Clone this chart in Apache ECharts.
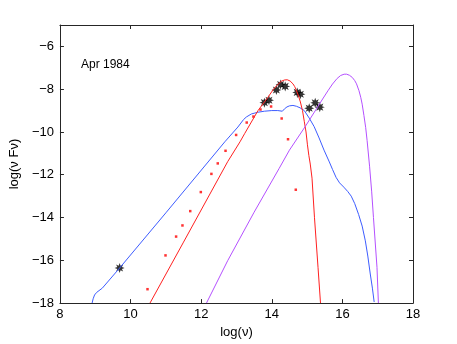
<!DOCTYPE html>
<html>
<head>
<meta charset="utf-8">
<script src="https://cdn.jsdelivr.net/npm/echarts@6/dist/echarts.min.js"></script>
<style>
  html, body { margin: 0; padding: 0; background: #fff; }
  #chart { width: 457px; height: 344px; }
</style>
</head>
<body>
<div id="chart"></div>
<script>
// observed fluxes (black asterisks)
const obsPoints = [
  [9.69, -16.36],
  [13.79, -8.63], [13.92, -8.52], [14.13, -8.04], [14.25, -7.78], [14.38, -7.87],
  [14.72, -8.15], [14.81, -8.24], [15.06, -8.89], [15.23, -8.64], [15.36, -8.84]
]
// red dots
const dotPoints = [
  [10.48, -17.35], [10.99, -15.77], [11.29, -14.89], [11.47, -14.37], [11.69, -13.70],
  [11.99, -12.81], [12.29, -11.96], [12.47, -11.47], [12.69, -10.88], [12.99, -10.14],
  [13.29, -9.56], [13.48, -9.28], [13.68, -8.95], [13.98, -8.81], [14.28, -9.37],
  [14.46, -10.34], [14.68, -12.70]
]
// blue model curve
const blueCurve = [
  [8.91, -18], [8.94, -17.8], [8.98, -17.62], [9.04, -17.5], [9.2, -17.3], [9.69, -16.36],
  [11, -13.78], [12.67, -10.46], [13.04, -9.77], [13.2, -9.42], [13.28, -9.3], [13.42, -9.16],
  [13.6, -9.08], [13.79, -9.03], [14.0, -9.0], [14.17, -9.0], [14.3, -9.03], [14.36, -8.92],
  [14.43, -8.83], [14.5, -8.78], [14.6, -8.76], [14.7, -8.8], [14.8, -8.87],
  [14.92, -9.0], [15.06, -9.35], [15.2, -9.75], [15.34, -10.28], [15.48, -10.85],
  [15.63, -11.4], [15.72, -11.75], [15.82, -12.12], [15.92, -12.38], [16.04, -12.58],
  [16.15, -12.78], [16.25, -13.0], [16.35, -13.35], [16.46, -13.86], [16.56, -14.4],
  [16.65, -15.09], [16.72, -15.8], [16.79, -16.64], [16.85, -17.3], [16.9, -17.95]
]
// red model curve
const redCurve = [
  [10.55, -18], [11.5, -15.15], [12.75, -11.39], [13.1, -10.46], [13.23, -10.08],
  [13.61, -9.0], [13.89, -8.38], [14.05, -8.0], [14.17, -7.78], [14.27, -7.63],
  [14.36, -7.57], [14.44, -7.56], [14.52, -7.62], [14.6, -7.75], [14.65, -7.88],
  [14.69, -8.03], [14.75, -8.28], [14.81, -8.6], [14.87, -9.0], [14.92, -9.5],
  [14.97, -10.0], [15.01, -10.6], [15.05, -11.1], [15.09, -11.5], [15.14, -12.16],
  [15.21, -14.01], [15.31, -16.33], [15.38, -18]
]
// purple model curve
const purpleCurve = [
  [12.15, -18], [12.75, -16.02], [13.5, -13.75], [14.21, -11.7], [14.5, -10.85],
  [14.97, -9.69], [15.44, -8.46], [15.6, -8.05], [15.72, -7.76], [15.85, -7.5],
  [15.95, -7.36], [16.05, -7.3], [16.12, -7.3], [16.2, -7.35], [16.28, -7.45],
  [16.35, -7.6], [16.4, -7.75], [16.47, -8.07], [16.52, -8.38], [16.56, -8.7],
  [16.61, -9.23], [16.66, -9.8], [16.7, -10.4], [16.77, -11.6], [16.83, -12.8],
  [16.88, -14.0], [16.98, -16.33], [17.02, -18]
]
const xTicks = { min: 8, max: 18, interval: 2 }
const yTicks = { min: -18, max: -5, interval: 2 }

// asterisk-like marker
function starPath(n, rIn){
  let d = ''
  for(let i = 0; i < n * 2; i++){
    const a = Math.PI * i / n
    const r = i % 2 === 0 ? 1 : rIn
    const px = (Math.sin(a) * r).toFixed(3)
    const py = (-Math.cos(a) * r).toFixed(3)
    d += (i === 0 ? 'M' : 'L') + px + ' ' + py + ' '
  }
  return 'path://' + d + 'Z'
}

const font = 'Liberation Sans, Arial, Helvetica, sans-serif'
const axisCol = '#262626'
const fmt = v => (v === -5 ? '' : String(v).replace('-', '\u2212'))

const chart = echarts.init(document.getElementById('chart'))
const lineBase = { type: 'line', showSymbol: false, symbol: 'none', smooth: false, animation: false }

chart.setOption({
  animation: false,
  backgroundColor: '#fff',
  title: {
    text: 'Apr 1984', left: 76, top: 54,
    textStyle: { fontFamily: font, fontSize: 12, fontWeight: 'normal', color: '#000' }
  },
  grid: { left: 59, right: 44, top: 25, bottom: 39 },
  xAxis: [{
    type: 'value', min: xTicks.min, max: xTicks.max, interval: xTicks.interval,
    name: 'log(\u03bd)', nameLocation: 'middle', nameGap: 20,
    nameTextStyle: { fontFamily: font, fontSize: 13, color: '#000' },
    axisLine: { lineStyle: { color: axisCol } },
    axisTick: { inside: true, length: 4, lineStyle: { color: axisCol } },
    axisLabel: { fontFamily: font, fontSize: 13, color: '#000', margin: 5, formatter: fmt },
    splitLine: { show: false }
  }, {
    type: 'value', position: 'top', min: xTicks.min, max: xTicks.max, interval: xTicks.interval,
    axisLine: { lineStyle: { color: axisCol } },
    axisTick: { inside: true, length: 4, lineStyle: { color: axisCol } },
    axisLabel: { show: false }, splitLine: { show: false }
  }],
  yAxis: [{
    type: 'value', min: yTicks.min, max: yTicks.max, interval: yTicks.interval,
    name: 'log(\u03bd F\u03bd)', nameLocation: 'middle', nameGap: 33,
    nameTextStyle: { fontFamily: font, fontSize: 13, color: '#000' },
    axisLine: { lineStyle: { color: axisCol } },
    axisTick: { inside: true, length: 4, lineStyle: { color: axisCol } },
    axisLabel: { fontFamily: font, fontSize: 13, color: '#000', margin: 6, formatter: fmt },
    splitLine: { show: false }
  }, {
    type: 'value', position: 'right', min: yTicks.min, max: yTicks.max, interval: yTicks.interval,
    axisLine: { lineStyle: { color: axisCol } },
    axisTick: { inside: true, length: 4, lineStyle: { color: axisCol } },
    axisLabel: { show: false }, splitLine: { show: false }
  }],
  series: [
    Object.assign({}, lineBase, { data: blueCurve, lineStyle: { color: '#3d5cff', width: 1 } }),
    Object.assign({}, lineBase, { data: redCurve, lineStyle: { color: '#ff2020', width: 1 } }),
    Object.assign({}, lineBase, { data: purpleCurve, lineStyle: { color: '#b450ff', width: 1 } }),
    {
      type: 'scatter', data: dotPoints, symbol: 'rect', symbolSize: 2.5,
      itemStyle: { color: '#ff0000' }, animation: false
    },
    {
      type: 'scatter', data: obsPoints, symbol: starPath(8, 0.5), symbolSize: 10,
      itemStyle: { color: '#000' }, animation: false
    }
  ]
})
</script>
</body>
</html>
